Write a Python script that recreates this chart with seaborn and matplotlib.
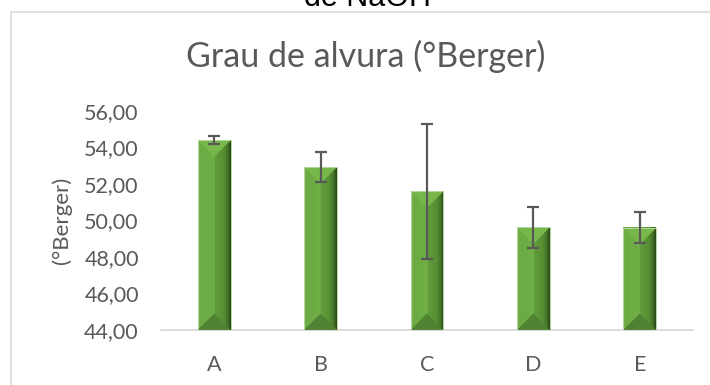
import numpy as np
import pandas as pd
import matplotlib
matplotlib.use("Agg")
import matplotlib.pyplot as plt
from matplotlib.patches import Polygon, Rectangle
from matplotlib.colors import LinearSegmentedColormap
import seaborn as sns

# Brightness per treatment (°Berger) with standard deviation
categories = ["A", "B", "C", "D", "E"]
means = [54.40, 52.93, 51.60, 49.63, 49.60]
errors = [0.23, 0.80, 3.70, 1.12, 0.85]
yticks = [44, 46, 48, 50, 52, 54, 56]

sns.set_theme(style="white")
plt.rcParams["font.family"] = ["Lato", "DejaVu Sans"]

TEXT = "#595959"
GREEN = "#70AD47"

fig = plt.figure(figsize=(7.10, 3.85), dpi=100)
ax = fig.add_axes([161 / 710, 1 - 330 / 385, 532 / 710, 219 / 385])

df = pd.DataFrame({"grupo": categories, "alvura": means})
sns.barplot(data=df, x="grupo", y="alvura", color=GREEN, width=0.31,
            saturation=1, ax=ax, errorbar=None, edgecolor="none", zorder=2)

ax.set_xlim(-0.5, len(categories) - 0.5)
ax.set_ylim(yticks[0], yticks[-1])
ax.set_autoscale_on(False)
ax.set_yticks(yticks)
ax.set_yticklabels([f"{v:.2f}".replace(".", ",") for v in yticks])
ax.tick_params(axis="both", length=0, labelsize=15.5, colors=TEXT)
ax.tick_params(axis="y", pad=16)
ax.tick_params(axis="x", pad=18)
ax.set_xlabel("")
ax.set_ylabel("(°Berger)", fontsize=16, color=TEXT, va="center")
ax.yaxis.set_label_coords(-0.186, 0.5)

for side in ("left", "right", "top"):
    ax.spines[side].set_visible(False)
ax.spines["bottom"].set_color("#d9d9d9")
ax.spines["bottom"].set_linewidth(1.3)
ax.spines["bottom"].set_zorder(1)

# Bevelled shading on each bar: flat left face, darker right face
# shading into a dark edge, lighter top facet and darker bottom facet
grad = LinearSegmentedColormap.from_list("bevel", [
    (0.00, "#7cba50"), (0.07, "#6cab43"), (0.44, "#6eae45"), (0.49, "#76b54b"),
    (0.51, "#629e3c"), (0.78, "#578f33"), (0.90, "#467429"), (1.00, "#2a4519")])
bars = list(ax.patches)
ybottom = ax.get_ylim()[0]
to_data = ax.transData.inverted()
centers = []
for patch in bars:
    x0, w = patch.get_x(), patch.get_width()
    top = patch.get_y() + patch.get_height()
    y0 = max(patch.get_y(), ybottom)
    xc = x0 + w / 2
    centers.append(xc)
    img = np.linspace(0, 1, 128).reshape(1, -1)
    ax.imshow(img, cmap=grad, aspect="auto", extent=(x0, x0 + w, y0, top),
              zorder=3, interpolation="bilinear")
    # bevel depth = half the bar width, measured in screen pixels
    px0 = ax.transData.transform((x0, y0))
    px1 = ax.transData.transform((x0 + w, y0))
    half_px = (px1[0] - px0[0]) / 2
    dy = to_data.transform((0, half_px))[1] - to_data.transform((0, 0))[1]
    ax.add_patch(Polygon([(x0, top), (x0 + w, top), (xc, top - dy)], closed=True,
                         facecolor="#78b84b", edgecolor="none", zorder=4))
    ax.add_patch(Polygon([(x0, y0), (x0 + w, y0), (xc, y0 + dy)], closed=True,
                         facecolor="#4f8232", edgecolor="none", zorder=4))
    ax.add_patch(Rectangle((x0, y0), w, top - y0, facecolor="none", edgecolor="#b5d6a0",
                           linewidth=0.7, zorder=5))
    patch.set_visible(False)

ax.errorbar(centers, means, yerr=errors, fmt="none", ecolor="#595959",
            elinewidth=1.6, capsize=4.3, capthick=1.6, zorder=6)
ax.set_xlim(-0.5, len(categories) - 0.5)
ax.set_ylim(yticks[0], yticks[-1])

ax.set_title("Grau de alvura (°Berger)", fontsize=24.5, color=TEXT, pad=0,
             x=(366 - 161) / 532, y=(330 - 67) / 219, va="baseline")

# Chart frame and the overflowing caption above it
fig.patches.append(Rectangle((11 / 710, -0.1), 1.0, 0.1 + (385 - 12) / 385,
                             transform=fig.transFigure, facecolor="none",
                             edgecolor="#d9d9d9", linewidth=1.2))
fig.text(367 / 710, 1 - 6 / 385, "de NaOH", fontsize=22, color="black",
         family=["Liberation Sans", "DejaVu Sans"], ha="center", va="baseline")

fig.savefig("out.png", dpi=100)
